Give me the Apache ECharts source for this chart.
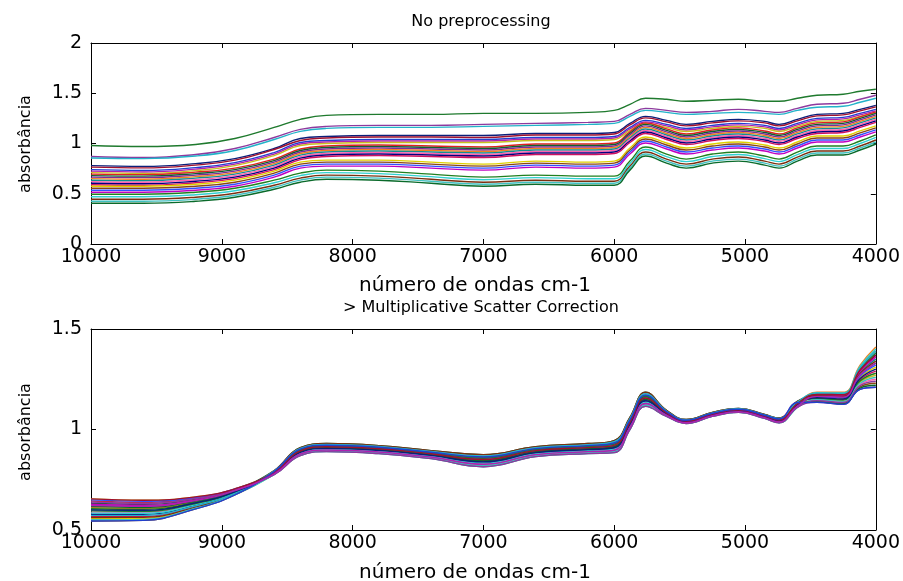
<!DOCTYPE html>
<html>
<head>
<meta charset="utf-8">
<script src="https://cdn.jsdelivr.net/npm/echarts@6/dist/echarts.min.js"></script>
<style>html,body{margin:0;padding:0;background:#fff;}#chart{width:903px;height:581px;}</style>
</head>
<body>
<div id="chart"></div>
<script>
// wavenumber sample positions (cm-1)
const wavenumbers = [10000, 9600, 9200, 8900, 8600, 8400, 8200, 7800, 7400, 7000, 6600, 6200, 6000, 5880, 5760, 5600, 5450, 5250, 5050, 4850, 4740, 4600, 4450, 4250, 4120, 4000];

// raw spectra (No preprocessing)
const rawSpectra = [
  [0.98,0.97,0.99,1.05,1.16,1.24,1.28,1.29,1.29,1.30,1.30,1.31,1.33,1.39,1.45,1.44,1.42,1.43,1.44,1.42,1.42,1.45,1.48,1.49,1.52,1.54],
  [0.87,0.86,0.89,0.95,1.06,1.14,1.17,1.18,1.18,1.19,1.20,1.21,1.22,1.29,1.35,1.33,1.31,1.32,1.34,1.32,1.31,1.35,1.39,1.40,1.44,1.48],
  [0.855,0.85,0.875,0.93,1.04,1.12,1.15,1.16,1.16,1.17,1.18,1.19,1.20,1.27,1.33,1.31,1.29,1.30,1.31,1.30,1.29,1.33,1.36,1.37,1.41,1.45],
  [0.78,0.772,0.80,0.85,0.95,1.05,1.07,1.08,1.08,1.08,1.10,1.10,1.11,1.20,1.27,1.23,1.19,1.22,1.24,1.22,1.19,1.24,1.29,1.30,1.34,1.38],
  [0.765,0.757,0.785,0.835,0.94,1.03,1.055,1.065,1.065,1.06,1.085,1.085,1.095,1.185,1.255,1.215,1.175,1.205,1.225,1.205,1.175,1.225,1.275,1.285,1.325,1.365],
  [0.74,0.732,0.76,0.81,0.91,1.01,1.03,1.04,1.04,1.04,1.06,1.06,1.07,1.16,1.23,1.19,1.15,1.18,1.20,1.18,1.15,1.20,1.25,1.26,1.30,1.34],
  [0.725,0.717,0.745,0.795,0.895,0.995,1.015,1.025,1.025,1.025,1.045,1.045,1.055,1.145,1.215,1.175,1.135,1.165,1.185,1.165,1.135,1.185,1.235,1.245,1.285,1.325],
  [0.71,0.702,0.73,0.78,0.88,0.98,1.0,1.01,1.01,1.01,1.03,1.03,1.04,1.13,1.2,1.16,1.12,1.15,1.17,1.15,1.12,1.17,1.22,1.23,1.27,1.31],
  [0.695,0.69,0.715,0.755,0.845,0.945,0.975,0.985,0.975,0.965,0.995,0.995,1.005,1.115,1.205,1.145,1.095,1.135,1.155,1.125,1.095,1.155,1.205,1.215,1.265,1.315],
  [0.68,0.675,0.70,0.74,0.83,0.93,0.96,0.97,0.96,0.95,0.98,0.98,0.99,1.10,1.19,1.13,1.08,1.12,1.14,1.11,1.08,1.14,1.19,1.20,1.25,1.30],
  [0.665,0.66,0.685,0.725,0.815,0.915,0.945,0.955,0.945,0.935,0.965,0.965,0.975,1.085,1.175,1.115,1.065,1.105,1.125,1.095,1.065,1.125,1.175,1.185,1.235,1.285],
  [0.65,0.645,0.67,0.71,0.80,0.90,0.93,0.94,0.93,0.92,0.95,0.95,0.96,1.07,1.16,1.10,1.05,1.09,1.11,1.08,1.05,1.11,1.16,1.17,1.22,1.27],
  [0.635,0.63,0.655,0.695,0.785,0.885,0.915,0.925,0.915,0.905,0.935,0.935,0.945,1.055,1.145,1.085,1.035,1.075,1.095,1.065,1.035,1.095,1.145,1.155,1.205,1.255],
  [0.62,0.615,0.64,0.68,0.77,0.87,0.90,0.91,0.90,0.89,0.92,0.92,0.93,1.04,1.13,1.07,1.02,1.06,1.08,1.05,1.02,1.08,1.13,1.14,1.19,1.24],
  [0.605,0.6,0.625,0.665,0.755,0.855,0.885,0.895,0.885,0.875,0.905,0.905,0.915,1.025,1.115,1.055,1.005,1.045,1.065,1.035,1.005,1.065,1.115,1.125,1.175,1.225],
  [0.59,0.585,0.61,0.65,0.74,0.84,0.87,0.88,0.87,0.86,0.89,0.89,0.90,1.01,1.10,1.04,0.99,1.03,1.05,1.02,0.99,1.05,1.10,1.11,1.16,1.21],
  [0.575,0.575,0.595,0.635,0.725,0.815,0.835,0.835,0.815,0.795,0.825,0.815,0.825,0.955,1.065,1.005,0.955,0.995,1.015,0.985,0.955,1.015,1.075,1.075,1.125,1.175],
  [0.555,0.555,0.575,0.615,0.705,0.795,0.815,0.815,0.795,0.775,0.805,0.795,0.805,0.935,1.045,0.985,0.935,0.975,0.995,0.965,0.935,0.995,1.055,1.055,1.105,1.155],
  [0.535,0.535,0.555,0.595,0.685,0.775,0.795,0.795,0.775,0.755,0.785,0.775,0.785,0.915,1.025,0.965,0.915,0.955,0.975,0.945,0.915,0.975,1.035,1.035,1.085,1.135],
  [0.515,0.515,0.535,0.575,0.665,0.755,0.775,0.775,0.755,0.735,0.765,0.755,0.765,0.895,1.005,0.945,0.895,0.935,0.955,0.925,0.895,0.955,1.015,1.015,1.065,1.115],
  [0.495,0.495,0.515,0.555,0.635,0.705,0.735,0.725,0.695,0.665,0.685,0.675,0.675,0.825,0.965,0.895,0.845,0.895,0.915,0.875,0.845,0.915,0.975,0.975,1.025,1.085],
  [0.47,0.47,0.49,0.53,0.61,0.68,0.71,0.70,0.67,0.64,0.66,0.65,0.65,0.80,0.94,0.87,0.82,0.87,0.89,0.85,0.82,0.89,0.95,0.95,1.00,1.06],
  [0.445,0.445,0.465,0.505,0.585,0.655,0.685,0.675,0.645,0.615,0.635,0.625,0.625,0.775,0.915,0.845,0.795,0.845,0.865,0.825,0.795,0.865,0.925,0.925,0.975,1.035],
  [0.425,0.425,0.445,0.485,0.565,0.635,0.665,0.655,0.625,0.595,0.615,0.605,0.605,0.755,0.895,0.825,0.775,0.825,0.845,0.805,0.775,0.845,0.905,0.905,0.955,1.015],
  [0.405,0.405,0.425,0.465,0.545,0.615,0.645,0.635,0.605,0.575,0.595,0.585,0.585,0.735,0.875,0.805,0.755,0.805,0.825,0.785,0.755,0.825,0.885,0.885,0.935,0.995]
];

// MSC-corrected spectra
const mscSpectra = [
  [0.655,0.648,0.665,0.705,0.791,0.902,0.922,0.912,0.887,0.863,0.905,0.92,0.933,1.048,1.171,1.089,1.046,1.081,1.101,1.071,1.052,1.134,1.15,1.143,1.236,1.27],
  [0.644,0.638,0.659,0.702,0.781,0.882,0.902,0.892,0.867,0.833,0.88,0.895,0.903,1.018,1.136,1.074,1.036,1.071,1.091,1.061,1.04,1.119,1.18,1.179,1.308,1.39],
  [0.633,0.628,0.653,0.699,0.795,0.91,0.93,0.92,0.895,0.875,0.915,0.93,0.945,1.06,1.185,1.095,1.05,1.085,1.105,1.075,1.057,1.14,1.165,1.161,1.272,1.33],
  [0.622,0.618,0.647,0.696,0.777,0.874,0.894,0.884,0.859,0.821,0.87,0.885,0.891,1.006,1.122,1.068,1.032,1.067,1.087,1.057,1.035,1.113,1.135,1.125,1.20,1.21],
  [0.611,0.608,0.641,0.693,0.787,0.894,0.914,0.904,0.879,0.851,0.895,0.91,0.921,1.036,1.157,1.083,1.042,1.077,1.097,1.067,1.047,1.128,1.185,1.185,1.32,1.41],
  [0.60,0.598,0.635,0.69,0.775,0.87,0.89,0.88,0.855,0.815,0.865,0.88,0.885,1.0,1.115,1.065,1.03,1.065,1.085,1.055,1.033,1.11,1.17,1.167,1.284,1.35],
  [0.589,0.588,0.629,0.687,0.793,0.906,0.926,0.916,0.891,0.869,0.91,0.925,0.939,1.054,1.178,1.092,1.048,1.083,1.103,1.073,1.055,1.137,1.145,1.137,1.224,1.25],
  [0.578,0.578,0.623,0.684,0.783,0.886,0.906,0.896,0.871,0.839,0.885,0.90,0.909,1.024,1.143,1.077,1.038,1.073,1.093,1.063,1.043,1.122,1.175,1.173,1.296,1.37],
  [0.567,0.568,0.617,0.681,0.789,0.898,0.918,0.908,0.883,0.857,0.90,0.915,0.927,1.042,1.164,1.086,1.044,1.079,1.099,1.069,1.05,1.131,1.155,1.149,1.248,1.29],
  [0.556,0.558,0.611,0.678,0.779,0.878,0.898,0.888,0.863,0.827,0.875,0.89,0.897,1.012,1.129,1.071,1.034,1.069,1.089,1.059,1.038,1.116,1.16,1.155,1.26,1.31],
  [0.545,0.548,0.605,0.675,0.785,0.89,0.91,0.90,0.875,0.845,0.89,0.905,0.915,1.03,1.15,1.08,1.04,1.075,1.095,1.065,1.045,1.125,1.14,1.131,1.212,1.23],
  [0.65,0.643,0.662,0.704,0.787,0.894,0.914,0.904,0.879,0.851,0.895,0.91,0.921,1.036,1.157,1.083,1.042,1.077,1.097,1.067,1.047,1.128,1.163,1.158,1.266,1.32],
  [0.628,0.623,0.65,0.698,0.779,0.878,0.898,0.888,0.863,0.827,0.875,0.89,0.897,1.012,1.129,1.071,1.034,1.069,1.089,1.059,1.038,1.116,1.173,1.17,1.29,1.36],
  [0.606,0.603,0.638,0.692,0.791,0.902,0.922,0.912,0.887,0.863,0.905,0.92,0.933,1.048,1.171,1.089,1.046,1.081,1.101,1.071,1.052,1.134,1.153,1.146,1.242,1.28],
  [0.584,0.583,0.626,0.686,0.781,0.882,0.902,0.892,0.867,0.833,0.88,0.895,0.903,1.018,1.136,1.074,1.036,1.071,1.091,1.061,1.04,1.119,1.183,1.182,1.314,1.40],
  [0.562,0.563,0.614,0.68,0.795,0.91,0.93,0.92,0.895,0.875,0.915,0.93,0.945,1.06,1.185,1.095,1.05,1.085,1.105,1.075,1.057,1.14,1.168,1.164,1.278,1.34],
  [0.551,0.553,0.608,0.677,0.777,0.874,0.894,0.884,0.859,0.821,0.87,0.885,0.891,1.006,1.122,1.068,1.032,1.067,1.087,1.057,1.035,1.113,1.148,1.14,1.23,1.26],
  [0.617,0.613,0.644,0.695,0.785,0.89,0.91,0.90,0.875,0.845,0.89,0.905,0.915,1.03,1.15,1.08,1.04,1.075,1.095,1.065,1.045,1.125,1.138,1.128,1.206,1.22],
  [0.595,0.593,0.632,0.689,0.789,0.898,0.918,0.908,0.883,0.857,0.90,0.915,0.927,1.042,1.164,1.086,1.044,1.079,1.099,1.069,1.05,1.131,1.178,1.176,1.302,1.38],
  [0.639,0.633,0.656,0.701,0.775,0.87,0.89,0.88,0.855,0.815,0.865,0.88,0.885,1.0,1.115,1.065,1.03,1.065,1.085,1.055,1.033,1.11,1.143,1.134,1.218,1.24],
  [0.573,0.573,0.62,0.683,0.793,0.906,0.926,0.916,0.891,0.869,0.91,0.925,0.939,1.054,1.178,1.092,1.048,1.083,1.103,1.073,1.055,1.137,1.18,1.179,1.308,1.39],
  [0.60,0.598,0.635,0.69,0.783,0.886,0.906,0.896,0.871,0.839,0.885,0.90,0.909,1.024,1.143,1.077,1.038,1.073,1.093,1.063,1.043,1.122,1.158,1.152,1.254,1.30],
  [0.655,0.648,0.665,0.705,0.787,0.894,0.914,0.904,0.879,0.851,0.895,0.91,0.921,1.036,1.157,1.083,1.042,1.077,1.097,1.067,1.047,1.128,1.175,1.173,1.296,1.37],
  [0.545,0.548,0.605,0.675,0.791,0.902,0.922,0.912,0.887,0.863,0.905,0.92,0.933,1.048,1.171,1.089,1.046,1.081,1.101,1.071,1.052,1.134,1.135,1.125,1.20,1.21],
  [0.622,0.618,0.647,0.696,0.779,0.878,0.898,0.888,0.863,0.827,0.875,0.89,0.897,1.012,1.129,1.071,1.034,1.069,1.089,1.059,1.038,1.116,1.165,1.161,1.272,1.33]
];

const lineColors = ['#1f7a2e','#8e3a9e','#22b3c9','#0b1f7a','#a01030','#2040d0','#b020b0','#c8c020','#e02020','#106030','#7b2b9b','#f08020','#109090','#ff60b0','#000080','#d01060','#e0d000','#8b4513','#3050ff','#c000c0','#208020','#30d0d0','#7a3010','#40c0c0','#0a6a2a'];

const titles = ['No preprocessing', '> Multiplicative Scatter Correction'];
const xName = 'número de ondas cm-1';
const yName = 'absorbância';

const FONT = "'DejaVu Sans', sans-serif";
const chart = echarts.init(document.getElementById('chart'), null, {renderer: 'canvas'});

function xAx(grid, pos, labels) {
  return {
    gridIndex: grid, type: 'value', min: 4000, max: 10000, interval: 1000, inverse: true, position: pos,
    axisLine: {show: true, onZero: false, lineStyle: {color: '#000', width: 1}},
    axisTick: {show: true, inside: true, length: 5, lineStyle: {color: '#000'}},
    axisLabel: {show: labels, margin: 4, fontSize: 19, fontFamily: FONT, color: '#000', formatter: v => String(v)},
    splitLine: {show: false}
  };
}
function yAx(grid, pos, labels, mn, mx) {
  return {
    gridIndex: grid, type: 'value', min: mn, max: mx, interval: 0.5, position: pos,
    axisLine: {show: true, onZero: false, lineStyle: {color: '#000', width: 1}},
    axisTick: {show: true, inside: true, length: 5, lineStyle: {color: '#000'}},
    axisLabel: {show: labels, margin: 9, fontSize: 19, fontFamily: FONT, color: '#000', formatter: v => String(v)},
    splitLine: {show: false}
  };
}

const series = [];
rawSpectra.forEach((s, i) => {
  series.push({type: 'line', xAxisIndex: 0, yAxisIndex: 0, showSymbol: false, smooth: 0.45,
    lineStyle: {width: 1.4, color: lineColors[i % lineColors.length]},
    data: wavenumbers.map((w, j) => [w, s[j]])});
});
mscSpectra.forEach((s, i) => {
  series.push({type: 'line', xAxisIndex: 2, yAxisIndex: 2, showSymbol: false, smooth: 0.45,
    lineStyle: {width: 1.4, color: lineColors[(i + 7) % lineColors.length]},
    data: wavenumbers.map((w, j) => [w, s[j]])});
});

function txt(t, x, y, size, rot) {
  return {type: 'text', x: x, y: y, rotation: rot || 0,
    style: {text: t, fill: '#000', font: size + 'px ' + FONT, textAlign: 'center', textVerticalAlign: 'middle'}};
}

chart.setOption({
  animation: false,
  backgroundColor: '#fff',
  grid: [
    {left: 91, top: 43, width: 785, height: 201},
    {left: 91, top: 329, width: 785, height: 201}
  ],
  xAxis: [xAx(0, 'bottom', true), xAx(0, 'top', false), xAx(1, 'bottom', true), xAx(1, 'top', false)],
  yAxis: [yAx(0, 'left', true, 0, 2), yAx(0, 'right', false, 0, 2), yAx(1, 'left', true, 0.5, 1.5), yAx(1, 'right', false, 0.5, 1.5)],
  series: series,
  graphic: [
    txt(titles[0], 481, 22, 16),
    txt(xName, 475, 286, 20),
    txt(titles[1], 481, 308, 16),
    txt(xName, 475, 573, 20),
    txt(yName, 26, 144, 16, Math.PI / 2),
    txt(yName, 26, 432, 16, Math.PI / 2)
  ]
});
</script>
</body>
</html>
